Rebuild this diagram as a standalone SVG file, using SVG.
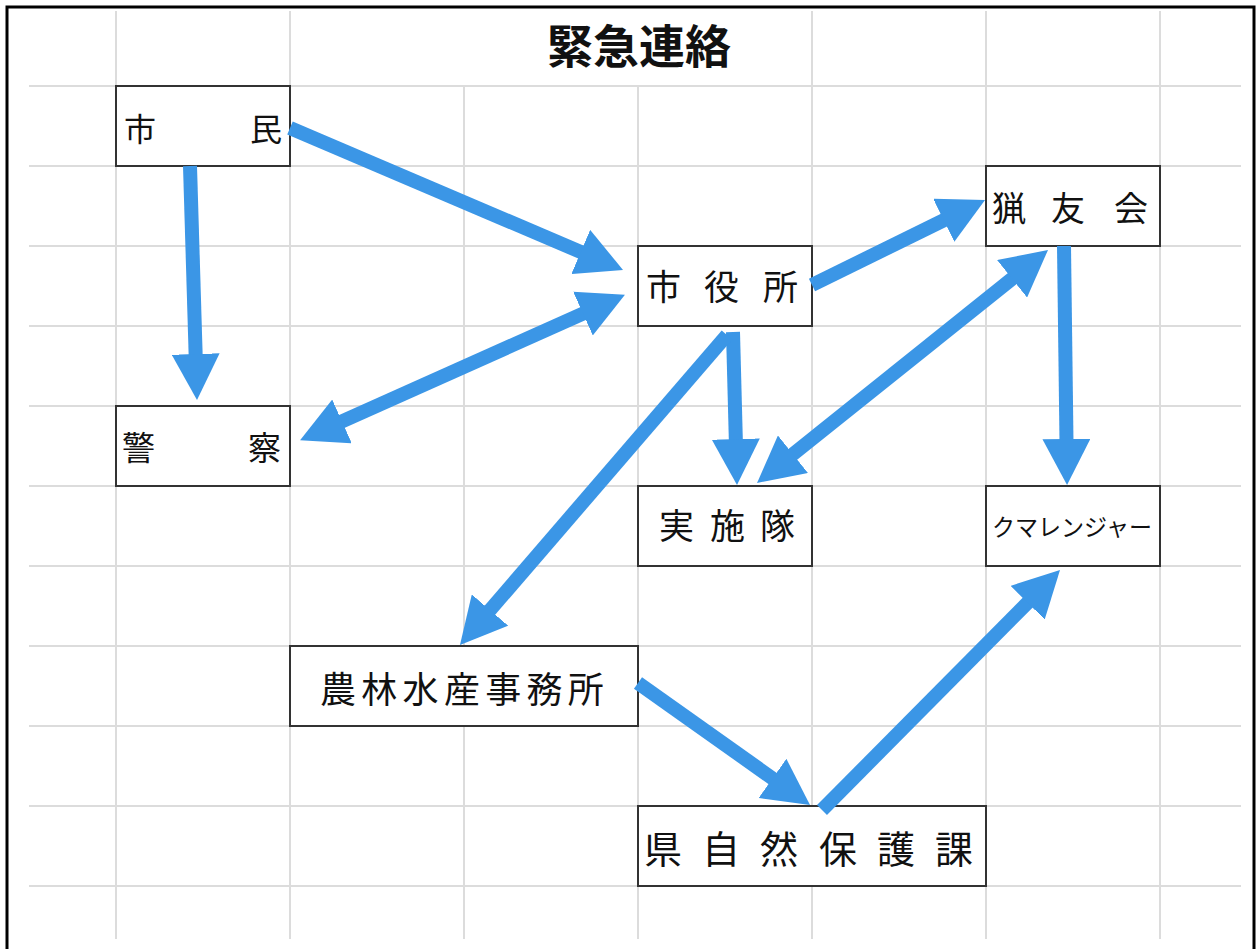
<svg xmlns="http://www.w3.org/2000/svg" width="1258" height="949" viewBox="0 0 1258 949">
<style>
.grid line{stroke:#dcdcdc;stroke-width:2}
.box{fill:#fff;stroke:#333;stroke-width:2}
.lbl{font-family:"Noto Sans CJK JP","Noto Sans CJK SC",sans-serif;fill:#111}
.title{font-family:"Noto Sans CJK JP","Noto Sans CJK SC",sans-serif;font-weight:700;font-size:46px;fill:#111}
.conn line{stroke:#3b96e6;stroke-width:14;fill:none}
</style>
<defs>
<marker id="ah" markerUnits="userSpaceOnUse" markerWidth="46" markerHeight="48" refX="19" refY="24" orient="auto-start-reverse">
<path d="M0,0 L46,24 L0,48 z" fill="#3b96e6"/>
</marker>
</defs>
<rect x="0" y="0" width="1258" height="949" fill="#fff"/>
<g class="grid">
<line x1="116" y1="11" x2="116" y2="939"/>
<line x1="290" y1="11" x2="290" y2="939"/>
<line x1="464" y1="86" x2="464" y2="939"/>
<line x1="638" y1="86" x2="638" y2="939"/>
<line x1="812" y1="11" x2="812" y2="939"/>
<line x1="986" y1="11" x2="986" y2="939"/>
<line x1="1160" y1="11" x2="1160" y2="939"/>
<line x1="29" y1="86" x2="1241" y2="86"/>
<line x1="29" y1="166" x2="1241" y2="166"/>
<line x1="29" y1="246" x2="1241" y2="246"/>
<line x1="29" y1="326" x2="1241" y2="326"/>
<line x1="29" y1="406" x2="1241" y2="406"/>
<line x1="29" y1="486" x2="1241" y2="486"/>
<line x1="29" y1="566" x2="1241" y2="566"/>
<line x1="29" y1="646" x2="1241" y2="646"/>
<line x1="29" y1="726" x2="1241" y2="726"/>
<line x1="29" y1="806" x2="1241" y2="806"/>
<line x1="29" y1="886" x2="1241" y2="886"/>
</g>
<rect x="7" y="7" width="1247" height="960" fill="none" stroke="#000" stroke-width="3"/>
<text class="title" x="639" y="63" text-anchor="middle">緊急連絡</text>
<g id="node-shimin">
<rect class="box" x="116" y="86" width="174" height="80"/>
<text class="lbl" font-size="32" x="124" y="141">市</text>
<text class="lbl" font-size="32" x="282" y="141" text-anchor="end">民</text>
</g>
<g id="node-keisatsu">
<rect class="box" x="116" y="406" width="174" height="80"/>
<text class="lbl" font-size="33" x="122" y="460">警</text>
<text class="lbl" font-size="33" x="281" y="460" text-anchor="end">察</text>
</g>
<g id="node-shiyakusho">
<rect class="box" x="638" y="246" width="174" height="80"/>
<text class="lbl" font-size="35" x="646 704 763" y="300">市役所</text>
</g>
<g id="node-ryoyukai">
<rect class="box" x="986" y="166" width="174" height="80"/>
<text class="lbl" font-size="34" x="992 1051 1114" y="221">猟友会</text>
</g>
<g id="node-jisshitai">
<rect class="box" x="638" y="486" width="174" height="80"/>
<text class="lbl" font-size="35" x="659 710 760" y="539">実施隊</text>
</g>
<g id="node-kumaranger">
<rect class="box" x="986" y="486" width="174" height="80"/>
<text class="lbl" font-size="24" x="992" y="536" textLength="160" lengthAdjust="spacingAndGlyphs">クマレンジャー</text>
</g>
<g id="node-norin">
<rect class="box" x="290" y="646" width="348" height="80"/>
<text class="lbl" font-size="36" x="320 361.3 402.6 443.9 485.2 526.5 567.8" y="703">農林水産事務所</text>
</g>
<g id="node-ken">
<rect class="box" x="638" y="806" width="348" height="80"/>
<text class="lbl" font-size="38" x="644 702 760 819 877 935" y="863">県自然保護課</text>
</g>
<g id="connectors" class="conn">
<line x1="190" y1="166" x2="196.2" y2="373" marker-end="url(#ah)"/>
<line x1="290" y1="128" x2="598.2" y2="259.4" marker-end="url(#ah)"/>
<line x1="324.7" y1="429.2" x2="600.3" y2="305.8" marker-start="url(#ah)" marker-end="url(#ah)"/>
<line x1="812" y1="285" x2="960.8" y2="211.9" marker-end="url(#ah)"/>
<line x1="733" y1="332" x2="736.3" y2="458" marker-end="url(#ah)"/>
<line x1="727" y1="335" x2="477.6" y2="624.5" marker-end="url(#ah)"/>
<line x1="1026.9" y1="266.9" x2="778.1" y2="466.1" marker-start="url(#ah)" marker-end="url(#ah)"/>
<line x1="1064" y1="246" x2="1066.7" y2="458" marker-end="url(#ah)"/>
<line x1="638" y1="683" x2="788" y2="789.4" marker-end="url(#ah)"/>
<line x1="822" y1="810" x2="1041" y2="589.2" marker-end="url(#ah)"/>
</g>
</svg>
